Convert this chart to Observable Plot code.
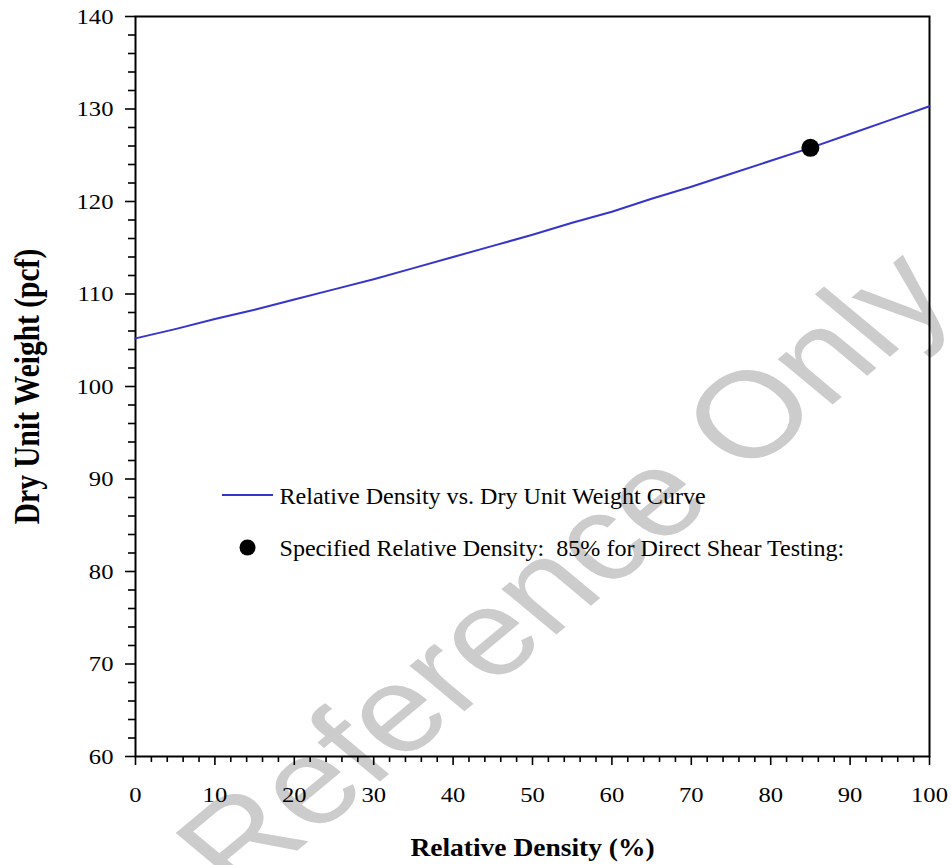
<!DOCTYPE html>
<html>
<head>
<meta charset="utf-8">
<script src="https://cdn.jsdelivr.net/npm/d3@7"></script>
<script src="https://cdn.jsdelivr.net/npm/@observablehq/plot@0.6"></script>
<style>
  html, body { margin: 0; padding: 0; background: #fff; }
  #chart svg { display: block; }
</style>
</head>
<body>
<div id="chart"></div>
<script>
// ---- data ----
const relativeDensity = [0, 5, 10, 15, 20, 25, 30, 35, 40, 45, 50, 55, 60, 65, 70, 75, 80, 85, 90, 95, 100];
const dryUnitWeight   = [105.2, 106.2, 107.3, 108.3, 109.4, 110.5, 111.6, 112.8, 114.0, 115.2, 116.4, 117.7, 118.9, 120.3, 121.6, 123.0, 124.4, 125.8, 127.3, 128.8, 130.3];
const specifiedDensity = [85];
const specifiedWeight  = [125.8];

const xMajorTicks = [0, 10, 20, 30, 40, 50, 60, 70, 80, 90, 100];
const xMinorTicks = [2, 4, 6, 8, 12, 14, 16, 18, 22, 24, 26, 28, 32, 34, 36, 38, 42, 44, 46, 48, 52, 54, 56, 58, 62, 64, 66, 68, 72, 74, 76, 78, 82, 84, 86, 88, 92, 94, 96, 98];
const yMajorTicks = [60, 70, 80, 90, 100, 110, 120, 130, 140];
const yMinorTicks = [62, 64, 66, 68, 72, 74, 76, 78, 82, 84, 86, 88, 92, 94, 96, 98, 102, 104, 106, 108, 112, 114, 116, 118, 122, 124, 126, 128, 132, 134, 136, 138];

const xTitle = "Relative Density (%)";
const yTitle = "Dry Unit Weight (pcf)";
const legendLabels = ["Relative Density vs. Dry Unit Weight Curve", "Specified Relative Density:  85% for Direct Shear Testing:"];
const watermarkText = "Reference Only";

// ---- build ----
const curve = relativeDensity.map((x, i) => ({x, y: dryUnitWeight[i]}));
const specified = specifiedDensity.map((x, i) => ({x, y: specifiedWeight[i]}));

const serif = "'Liberation Serif', 'Times New Roman', serif";
const curveColor = "#3535cc";

const plot = Plot.plot({
  width: 951,
  height: 865,
  marginLeft: 135,
  marginRight: 22,
  marginTop: 16,
  marginBottom: 109,
  x: {domain: [0, 100]},
  y: {domain: [60, 140]},
  style: {fontFamily: serif, fontSize: "22px", color: "#000", background: "#fff"},
  marks: [
    Plot.text([watermarkText], {frameAnchor: "bottom-left", dx: 103, dy: 143, rotate: -45, textAnchor: "start", lineAnchor: "bottom", fontSize: 122, fontFamily: "'Liberation Sans', Arial, sans-serif", fill: "#cccccc"}),
    Plot.axisX(xMinorTicks, {tickSize: 6, text: null, strokeWidth: 1.6, label: null}),
    Plot.axisX(xMajorTicks, {tickSize: 9, tickPadding: 21, strokeWidth: 1.6, label: null, fontSize: 22}),
    Plot.axisY(yMinorTicks, {tickSize: 7, text: null, strokeWidth: 1.6, label: null}),
    Plot.axisY(yMajorTicks, {tickSize: 10, tickPadding: 12, strokeWidth: 1.6, label: null, fontSize: 22}),
    Plot.frame({stroke: "#000", strokeWidth: 2}),
    Plot.line(curve, {x: "x", y: "y", stroke: curveColor, strokeWidth: 2}),
    Plot.dot(specified, {x: "x", y: "y", r: 9, fill: "#000", stroke: "none"}),
    Plot.text([xTitle], {frameAnchor: "bottom", dy: 99, textAnchor: "middle", lineAnchor: "bottom", fontWeight: "bold", fontSize: 25}),
    Plot.text([yTitle], {frameAnchor: "left", dx: -97, rotate: -90, textAnchor: "middle", lineAnchor: "bottom", fontWeight: "bold", fontSize: 29.5}),
    Plot.text([legendLabels[0]], {frameAnchor: "top-left", dx: 144, dy: 487, textAnchor: "start", lineAnchor: "bottom", fontSize: 22.5}),
    Plot.dot([legendLabels[1]], {frameAnchor: "top-left", dx: 112, dy: 531, r: 8, fill: "#000", stroke: "none"}),
    Plot.text([legendLabels[1]], {frameAnchor: "top-left", dx: 144, dy: 539, textAnchor: "start", lineAnchor: "bottom", fontSize: 22.5})
  ]
});

document.getElementById("chart").append(plot);

// legend line sample
const svg = d3.select(plot);
svg.append("line")
  .attr("x1", 222).attr("x2", 273)
  .attr("y1", 495).attr("y2", 495)
  .attr("stroke", curveColor).attr("stroke-width", 2);

// the reference picture is horizontally widened; emulate it per text
const stretch = (t) => {
  const s = t.textContent;
  if (s === watermarkText) return 1.2;
  if (s === xTitle) return 1.1;
  if (s === yTitle) return 1.18;
  if (legendLabels.includes(s)) return 1.07;
  return 1.12;
};
svg.selectAll("text").each(function () {
  const k = stretch(this);
  if (k === 1) return;
  const tr = this.getAttribute("transform");
  if (tr && /translate\([^)]*\)/.test(tr)) {
    this.setAttribute("transform", tr.replace(/(translate\([^)]*\))/, `$1 scale(${k},1)`));
  }
});
</script>
</body>
</html>
